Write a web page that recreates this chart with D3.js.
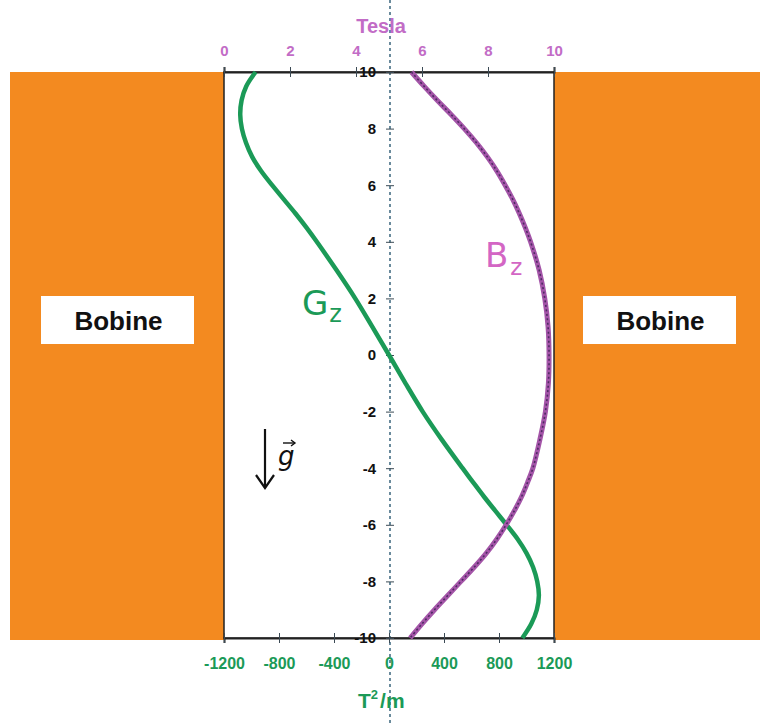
<!DOCTYPE html>
<html><head><meta charset="utf-8">
<script src="https://cdn.jsdelivr.net/npm/d3@7"></script>
<style>html,body{margin:0;padding:0;background:#fff;}svg{display:block;}</style>
</head><body>
<script>
// ---- data ----
const zPos = [10, 9.5, 9, 8.5, 8, 7.5, 7, 6.5, 6, 5.5, 5, 4.5, 4, 3, 2, 1, 0, -1, -2, -3, -4, -4.5, -5, -5.5, -6, -6.5, -7, -7.5, -8, -8.5, -9, -9.5, -10];
const bzTesla = [5.68, 6.06, 6.46, 6.88, 7.28, 7.65, 7.98, 8.27, 8.52, 8.75, 8.95, 9.13, 9.29, 9.55, 9.72, 9.82, 9.85, 9.83, 9.74, 9.57, 9.36, 9.2, 9.02, 8.8, 8.55, 8.27, 7.95, 7.58, 7.18, 6.78, 6.38, 6.0, 5.64];
const gzValues = [-970, -1038, -1072, -1082, -1070, -1040, -995, -930, -850, -765, -680, -600, -525, -382, -246, -122, 0, 120, 245, 385, 535, 612, 690, 772, 855, 935, 1000, 1048, 1078, 1090, 1075, 1035, 970];
const zTicks = [10, 8, 6, 4, 2, 0, -2, -4, -6, -8, -10];
const teslaTicks = [0, 2, 4, 6, 8, 10];
const gradTicks = [-1200, -800, -400, 0, 400, 800, 1200];

const W = 760, H = 725;
const pLeft = 224, pRight = 554, pTop = 72, pBottom = 638;

const svg = d3.select("body").append("svg").attr("width", W).attr("height", H);

const xT = d3.scaleLinear().domain([0, 10]).range([pLeft, pRight]);
const xG = d3.scaleLinear().domain([-1200, 1200]).range([pLeft, pRight]);
const y = d3.scaleLinear().domain([10, -10]).range([pTop, pBottom]);
const fmt = d => String(d);

const orange = "#F38A20";
const green = "#1B9A57";
const purpleLbl = "#C26CC6";
const pinkLbl = "#D366C4";

// coils
svg.append("rect").attr("x", 10).attr("y", pTop).attr("width", pLeft - 10).attr("height", pBottom - pTop + 2).attr("fill", orange);
svg.append("rect").attr("x", pRight).attr("y", pTop).attr("width", W - pRight).attr("height", pBottom - pTop + 2).attr("fill", orange);
[[41, 194], [583, 736]].forEach(([a, b]) => {
  svg.append("rect").attr("x", a).attr("y", 296).attr("width", b - a).attr("height", 48).attr("fill", "#fff");
  svg.append("text").attr("x", (a + b) / 2 + 1).attr("y", 330).attr("text-anchor", "middle")
    .attr("font-family", "Liberation Sans, Arial, sans-serif").attr("font-weight", "bold")
    .attr("font-size", 26).attr("fill", "#111").text("Bobine");
});

// plot frame
svg.append("rect").attr("x", pLeft).attr("y", pTop).attr("width", pRight - pLeft).attr("height", pBottom - pTop)
  .attr("fill", "#fff").attr("stroke", "#222").attr("stroke-width", 1.5);

// center dashed line
svg.append("line").attr("x1", xG(0) + 1).attr("x2", xG(0) + 1).attr("y1", 0).attr("y2", H)
  .attr("stroke", "#2b5a73").attr("stroke-width", 1.4).attr("stroke-dasharray", "3,3");

const fontAx = "Liberation Sans, Arial, sans-serif";

// top axis (Tesla)
const topAx = svg.append("g").attr("transform", `translate(0,${pTop})`)
  .call(d3.axisTop(xT).tickValues(teslaTicks).tickSize(5).tickFormat(fmt));
topAx.select(".domain").attr("stroke", "#222").attr("stroke-width", 2);
topAx.selectAll(".tick line").attr("y1", 5).attr("y2", -5).attr("stroke", "#3b4a55");
topAx.selectAll(".tick text").attr("y", -16).attr("fill", purpleLbl).attr("font-size", 15)
  .attr("font-weight", "bold").attr("font-family", fontAx);
svg.append("text").attr("x", 381).attr("y", 33).attr("text-anchor", "middle").attr("fill", purpleLbl)
  .attr("font-family", fontAx).attr("font-weight", "bold").attr("font-size", 20).text("Tesla");

// bottom axis (T^2/m)
const botAx = svg.append("g").attr("transform", `translate(0,${pBottom})`)
  .call(d3.axisBottom(xG).tickValues(gradTicks).tickSize(5).tickFormat(fmt));
botAx.select(".domain").attr("stroke", "#222").attr("stroke-width", 2);
botAx.selectAll(".tick line").attr("y1", -5).attr("y2", 5).attr("stroke", "#3b4a55");
botAx.selectAll(".tick text").attr("y", 20).attr("fill", green).attr("font-size", 16)
  .attr("font-weight", "bold").attr("font-family", fontAx);
const tl = svg.append("text").attr("x", 358).attr("y", 708).attr("text-anchor", "start").attr("fill", green)
  .attr("font-family", fontAx).attr("font-weight", "bold").attr("font-size", 21);
tl.append("tspan").text("T");
tl.append("tspan").attr("dy", -9).attr("font-size", 13).text("2");
tl.append("tspan").attr("dy", 9).attr("dx", 2).text("/m");

// center y axis
const yAx = svg.append("g").attr("transform", `translate(${xG(0) + 1},0)`)
  .call(d3.axisLeft(y).tickValues(zTicks).tickSize(4).tickFormat(fmt));
yAx.select(".domain").remove();
yAx.selectAll(".tick line").attr("x1", -4).attr("x2", 4).attr("stroke", "#3b4a55");
yAx.selectAll(".tick text").attr("x", -14).attr("fill", "#111").attr("font-size", 15)
  .attr("font-weight", "bold").attr("font-family", fontAx);

// curves
const lineB = d3.line().x((d, i) => xT(bzTesla[i])).y(d => y(d)).curve(d3.curveCatmullRom);
const lineG = d3.line().x((d, i) => xG(gzValues[i])).y(d => y(d)).curve(d3.curveCatmullRom);

svg.append("path").attr("d", lineG(zPos)).attr("fill", "none").attr("stroke", green).attr("stroke-width", 4.5);
svg.append("path").attr("d", lineB(zPos)).attr("fill", "none").attr("stroke", "#A455A8").attr("stroke-width", 5);
svg.append("path").attr("d", lineB(zPos)).attr("fill", "none").attr("stroke", "#4e2a63").attr("stroke-width", 1.6)
  .attr("stroke-dasharray", "2,2.5");

// curve labels
const gl = svg.append("text").attr("x", 302).attr("y", 315).attr("fill", green)
  .attr("font-family", "DejaVu Sans, Verdana, sans-serif").attr("font-size", 34);
gl.append("tspan").text("G");
gl.append("tspan").attr("dy", 7).attr("dx", 1).attr("font-size", 24).text("z");
const bl = svg.append("text").attr("x", 485).attr("y", 267).attr("fill", pinkLbl)
  .attr("font-family", "DejaVu Sans, Verdana, sans-serif").attr("font-size", 34);
bl.append("tspan").text("B");
bl.append("tspan").attr("dy", 8).attr("dx", 2).attr("font-size", 23).text("z");

// gravity arrow
const ga = svg.append("g").attr("stroke", "#111").attr("stroke-width", 2.2).attr("fill", "none");
ga.append("line").attr("x1", 265).attr("x2", 265).attr("y1", 429).attr("y2", 488);
ga.append("polyline").attr("points", "256,475 265,488 274,475");
svg.append("text").attr("x", 278).attr("y", 465).attr("font-family", "DejaVu Sans, sans-serif")
  .attr("font-style", "italic").attr("font-size", 26).attr("fill", "#111").text("g");
const gv = svg.append("g").attr("stroke", "#111").attr("stroke-width", 1.4).attr("fill", "none");
gv.append("line").attr("x1", 283).attr("x2", 295).attr("y1", 443).attr("y2", 443);
gv.append("polyline").attr("points", "291,440 295,443 291,446");
</script>
</body></html>
